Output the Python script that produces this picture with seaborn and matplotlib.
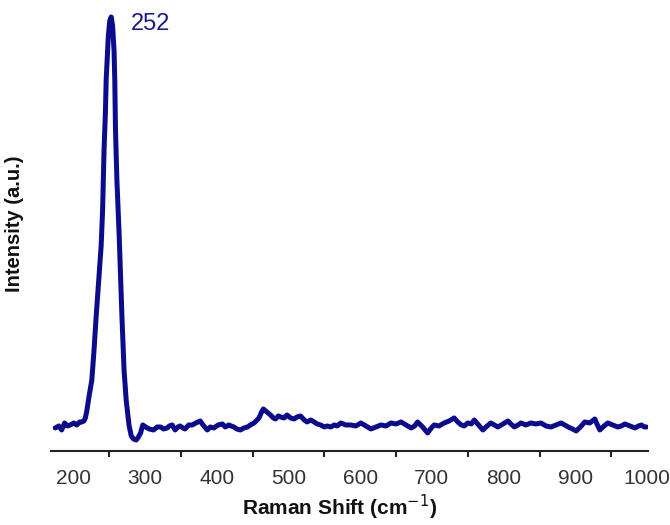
import pandas as pd
import seaborn as sns
import matplotlib.pyplot as plt

# Raman spectrum (arbitrary intensity units)
shift = [175, 180, 184, 188, 192, 196, 201, 205, 209, 212, 215, 217,
         219, 222, 226, 229, 232, 236, 239, 241, 243, 245, 246, 248, 249, 251,
         253, 255, 257, 258, 259, 261, 264, 266, 268, 271, 274, 278, 281, 284,
         288, 291, 294, 297, 301, 306, 312, 317, 322, 326, 331, 334, 338, 342,
         346, 349, 353, 356, 361, 366, 371, 377, 382, 387, 391, 396, 402, 408,
         412, 417, 420, 424, 428, 433, 438, 443, 447, 452, 455, 459, 462, 465,
         470, 475, 479, 482, 486, 489, 494, 498, 503, 508, 512, 517, 522, 526,
         531, 536, 540, 545, 550, 554, 559, 564, 568, 573, 580, 587, 594, 601,
         608, 615, 622, 629, 636, 643, 650, 657, 664, 671, 676, 680, 687, 694,
         698, 703, 710, 717, 724, 731, 736, 741, 745, 750, 755, 759, 765, 771,
         777, 782, 787, 792, 799, 806, 810, 815, 820, 824, 831, 838, 845, 852,
         859, 866, 873, 880, 885, 890, 896, 901, 907, 913, 920, 927, 930, 934,
         940, 945, 952, 959, 964, 969, 976, 983, 988, 992, 996, 999]
intensity = [23, 25, 21, 28, 25, 26, 28, 26, 29, 29, 30, 33,
             40, 54, 71, 100, 134, 175, 205, 240, 300, 340, 371, 400, 415, 430,
             434, 425, 400, 371, 321, 270, 218, 175, 134, 80, 50, 25, 15, 12,
             11, 14, 18, 26, 24, 22, 21, 24, 24, 22, 23, 25, 26, 21,
             24, 25, 23, 22, 26, 26, 28, 30, 25, 21, 24, 23, 26, 27,
             24, 26, 25, 24, 22, 21, 23, 24, 26, 28, 30, 33, 38, 42,
             39, 36, 33, 32, 35, 34, 33, 36, 33, 32, 34, 35, 31, 29,
             31, 29, 27, 26, 24, 25, 24, 26, 25, 28, 26, 26, 25, 28,
             25, 22, 24, 26, 25, 28, 27, 29, 26, 23, 25, 29, 24, 18,
             22, 26, 25, 28, 30, 33, 29, 26, 25, 28, 27, 31, 26, 21,
             25, 28, 26, 24, 27, 30, 27, 24, 26, 28, 26, 28, 27, 28,
             25, 24, 26, 28, 26, 24, 22, 20, 24, 29, 28, 32, 27, 21,
             25, 28, 26, 24, 25, 27, 25, 23, 25, 26, 24, 24]

df = pd.DataFrame({'shift': shift, 'intensity': intensity})

sns.set_style('white')
plt.rcParams['font.family'] = ['Liberation Sans', 'DejaVu Sans']

fig = plt.figure(figsize=(6.7, 5.25), dpi=100)
ax = fig.add_axes([0.076, 0.141, 0.891, 0.8476])

sns.lineplot(data=df, x='shift', y='intensity', ax=ax,
             color='#0b0b8c', linewidth=3.6, solid_joinstyle='round')

ax.set_xlim(169, 1001)
ax.set_ylim(0, 445)

for side in ['top', 'right', 'left']:
    ax.spines[side].set_visible(False)
ax.spines['bottom'].set_color('#222222')
ax.spines['bottom'].set_linewidth(1.5)

ax.set_xticks([200, 300, 400, 500, 600, 700, 800, 900, 1000])
ax.set_xticks(range(250, 1000, 100), minor=True)
ax.set_yticks([])
ax.tick_params(axis='x', which='major', direction='out', length=7, width=1.5,
               color='#222222', labelsize=15, labelcolor='#333333', pad=6)
ax.tick_params(axis='x', which='minor', direction='out', length=4, width=1.5,
               color='#222222', bottom=True)

ax.set_xlabel('Raman Shift (cm$^{-1}$)', fontsize=15, fontweight='bold',
              color='#111111')
ax.xaxis.set_label_coords(0.484, -0.095)
ax.set_ylabel('Intensity (a.u.)', fontsize=14.5, fontweight='bold',
              color='#111111')
ax.yaxis.set_label_coords(-0.045, 0.51)

ax.text(281, 427, '252', fontsize=17, color='#1a1a8c', va='center', ha='left')

fig.savefig('out.png', dpi=100)
